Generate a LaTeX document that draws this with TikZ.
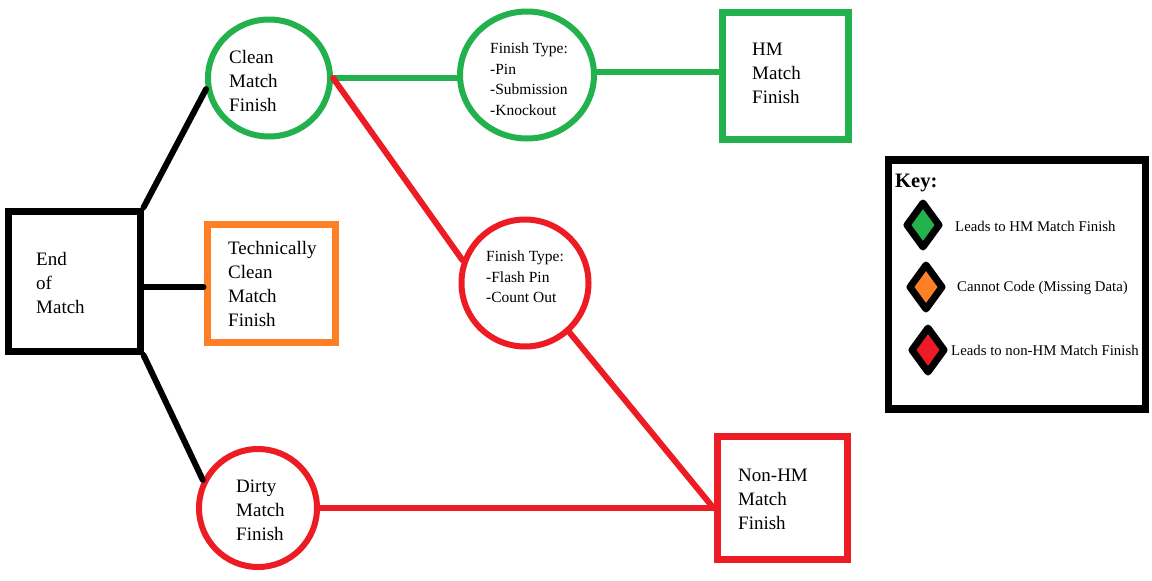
\documentclass[tikz,border=0pt]{standalone}
\usepackage{fontspec}
\setmainfont{Liberation Serif}
\newfontfamily\diagserif{Liberation Serif}
\usetikzlibrary{shapes.geometric,calc}
\definecolor{pgreen}{HTML}{22B14C}
\definecolor{porange}{HTML}{FF7F27}
\definecolor{pred}{HTML}{ED1C24}
\begin{document}
\begin{tikzpicture}[x=1pt,y=-1pt,
  every node/.style={font=\diagserif},
  boxnode/.style={draw,rectangle,line width=7pt,inner sep=0pt},
  ovalnode/.style={draw,ellipse,line width=6pt,inner sep=0pt},
  bigtext/.style={anchor=west,inner sep=0pt,align=left,font=\diagserif\fontsize{19}{24}\selectfont},
  smalltext/.style={anchor=west,inner sep=0pt,align=left,font=\diagserif\fontsize{15.5}{20.5}\selectfont},
  keytext/.style={anchor=west,inner sep=0pt,font=\diagserif\fontsize{14.8}{18}\selectfont},
  conn/.style={line width=6pt,line cap=round},
  keydiam/.style={draw=black,line width=7pt,line join=round}
]
\useasboundingbox[fill=white] (0,0) rectangle (1152,581);

% shapes
\node[boxnode,black,minimum width=131.5pt,minimum height=140.5pt] (eom) at (74.25,281.25) {};
\node[ovalnode,pgreen,minimum width=122pt,minimum height=117pt] (clean) at (269,78) {};
\node[boxnode,porange,minimum width=128pt,minimum height=118pt] (tech) at (271,283) {};
\node[ovalnode,pred,minimum width=118pt,minimum height=118pt] (dirty) at (258,508) {};
\node[ovalnode,pgreen,minimum width=134pt,minimum height=127pt] (ftg) at (527,75) {};
\node[boxnode,pgreen,minimum width=126pt,minimum height=127pt] (hm) at (785.5,76) {};
\node[ovalnode,pred,minimum width=127pt,minimum height=127pt] (ftr) at (525,283) {};
\node[boxnode,pred,minimum width=130pt,minimum height=123pt] (nonhm) at (782,498) {};
\node[boxnode,black,line width=7.5pt,minimum width=257pt,minimum height=249pt] (key) at (1017,284.5) {};

% texts
\node[bigtext] (teom) at (36,283) {End\\of\\Match};
\node[bigtext] (tclean) at (229,81) {Clean\\Match\\Finish};
\node[bigtext] (ttech) at (228,284) {Technically\\Clean\\Match\\Finish};
\node[bigtext] (tdirty) at (236,510) {Dirty\\Match\\Finish};
\node[smalltext] (tftg) at (490,79) {Finish Type:\\-Pin\\-Submission\\-Knockout};
\node[bigtext] (thm) at (752,73) {HM\\Match\\Finish};
\node[smalltext] (tftr) at (486,277) {Finish Type:\\-Flash Pin\\-Count Out};
\node[bigtext] (tnonhm) at (738,499) {Non-HM\\Match\\Finish};

% connectors
\draw[conn,black] (eom.north east) -- (clean.190);
\draw[conn,black] ([yshift=-6pt]eom.east) -- ([yshift=-6pt]eom.east -| tech.west);
\draw[conn,black] (eom.south east) -- (dirty.153);
\draw[conn,pgreen] (clean.east) -- (clean.east -| ftg.west);
\draw[conn,pgreen] ([yshift=3pt]ftg.east) -- ([yshift=3pt]ftg.east -| hm.west);
\draw[conn,pred] (clean.east) -- (ftr.160);
\coordinate (j) at (nonhm.west |- dirty.east);
\draw[conn,pred] (ftr.312) -- (j);
\draw[conn,pred] (dirty.east) -- (j);

% key
\node[anchor=west,inner sep=0pt,font=\diagserif\fontsize{20.5}{24}\selectfont\bfseries] (keyt) at (895,183) {Key:};
\draw[keydiam,fill=pgreen] (923,203) -- (939,225) -- (923,247) -- (907,225) -- cycle;
\draw[keydiam,fill=porange] (926,265) -- (942,287) -- (926,309) -- (910,287) -- cycle;
\draw[keydiam,fill=pred] (928,328) -- (944,350) -- (928,372) -- (912,350) -- cycle;
\node[keytext] (k1) at (955,226) {Leads to HM Match Finish};
\node[keytext] (k2) at (957,288) {Cannot Code (Missing Data)};
\node[keytext] (k3) at (951,350) {Leads to non-HM Match Finish};
\end{tikzpicture}
\end{document}
